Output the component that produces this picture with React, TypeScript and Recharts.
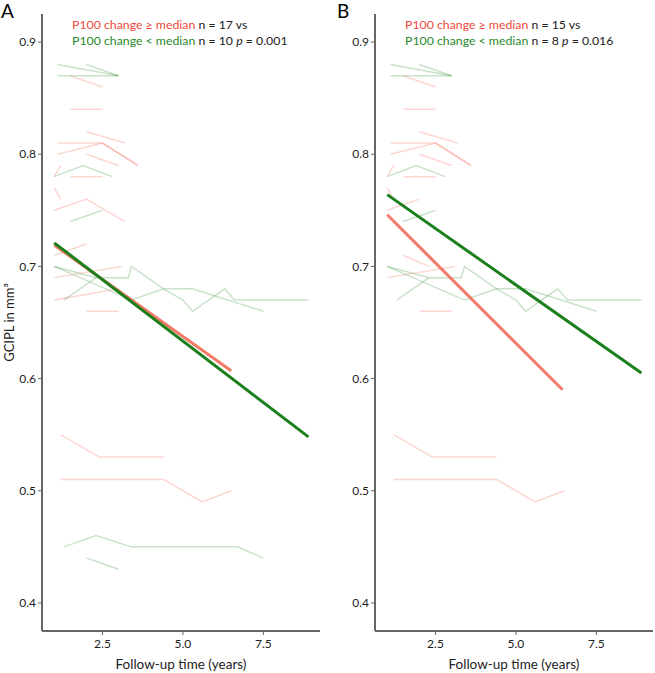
import { LineChart, Line, XAxis, YAxis } from 'recharts'

// follow-up time (years), GCIPL (mm³) per patient
const aHighLines = [
  [[1.5, 0.87], [2.5, 0.86]],
  [[1.5, 0.84], [2.5, 0.84]],
  [[2.0, 0.82], [3.2, 0.81]],
  [[1.1, 0.81], [2.5, 0.81], [3.6, 0.79]],
  [[1.1, 0.8], [2.5, 0.81], [3.6, 0.79]],
  [[2.0, 0.8], [3.0, 0.79]],
  [[1.0, 0.78], [1.2, 0.79]],
  [[1.5, 0.78], [2.5, 0.78]],
  [[1.0, 0.77], [1.2, 0.76]],
  [[1.0, 0.75], [2.0, 0.76], [3.2, 0.74]],
  [[1.0, 0.71], [2.0, 0.72]],
  [[1.0, 0.69], [3.1, 0.7]],
  [[1.0, 0.67], [3.0, 0.68]],
  [[2.0, 0.66], [3.0, 0.66]],
  [[1.2, 0.55], [2.4, 0.53], [4.4, 0.53]],
  [[1.2, 0.51], [4.4, 0.51], [5.6, 0.49], [6.5, 0.5]],
]

const aLowLines = [
  [[1.1, 0.88], [3.0, 0.87]],
  [[2.0, 0.88], [3.0, 0.87]],
  [[1.1, 0.87], [3.0, 0.87]],
  [[1.0, 0.78], [1.9, 0.79], [2.8, 0.78]],
  [[1.5, 0.74], [2.5, 0.75]],
  [[1.0, 0.7], [2.3, 0.69], [3.3, 0.69], [3.4, 0.7], [4.4, 0.68], [5.0, 0.67], [5.3, 0.66], [6.3, 0.68], [6.6, 0.67], [8.9, 0.67]],
  [[1.0, 0.7], [3.4, 0.67], [4.4, 0.68], [5.3, 0.68], [7.5, 0.66]],
  [[1.3, 0.67], [2.3, 0.69]],
  [[1.3, 0.45], [2.3, 0.46], [3.4, 0.45], [6.7, 0.45], [7.5, 0.44]],
  [[2.0, 0.44], [3.0, 0.43]],
]

const bHighLines = [
  [[1.5, 0.87], [2.5, 0.86]],
  [[1.5, 0.84], [2.5, 0.84]],
  [[2.0, 0.82], [3.2, 0.81]],
  [[1.1, 0.81], [2.5, 0.81], [3.6, 0.79]],
  [[1.1, 0.8], [2.5, 0.81], [3.6, 0.79]],
  [[2.0, 0.8], [3.0, 0.79]],
  [[1.0, 0.78], [1.2, 0.79]],
  [[1.5, 0.78], [2.5, 0.78]],
  [[1.0, 0.77], [1.2, 0.76]],
  [[1.0, 0.75], [2.0, 0.76]],
  [[1.5, 0.71], [2.3, 0.7]],
  [[1.0, 0.69], [3.1, 0.7]],
  [[2.0, 0.66], [3.0, 0.66]],
  [[1.2, 0.55], [2.4, 0.53], [4.4, 0.53]],
  [[1.2, 0.51], [4.4, 0.51], [5.6, 0.49], [6.5, 0.5]],
]

const bLowLines = aLowLines.slice(0, 8)

// fitted group trends
const aHighFit = [[1.0, 0.719], [6.5, 0.607]]
const aLowFit = [[1.0, 0.721], [8.9, 0.548]]
const bHighFit = [[1.0, 0.746], [6.45, 0.59]]
const bLowFit = [[1.0, 0.764], [8.9, 0.605]]

const xTicks = [2.5, 5.0, 7.5]
const yTicks = [0.4, 0.5, 0.6, 0.7, 0.8, 0.9]

const FONT = 'Lato, "Open Sans", sans-serif'
const RED = '#ef4a3a'
const GREEN = '#2a8a2a'

const toPts = (line: number[][]) => line.map(([x, y]) => ({ x, y }))

function Panel({ high, low, highFit, lowFit, showYLabel }: any) {
  return (
    <LineChart width={330} height={673} margin={{ top: 14, right: 10, left: 0, bottom: 0 }}>
      <XAxis
        type="number"
        dataKey="x"
        domain={[0.62, 9.26]}
        ticks={xTicks}
        tickFormatter={(v: number) => v.toFixed(1)}
        height={42}
        allowDataOverflow
        axisLine={{ stroke: '#666', strokeWidth: 2 }}
        tickLine={{ stroke: '#666' }}
        tickSize={4}
        tickMargin={4}
        tick={{ fill: '#222', fontSize: 12, fontFamily: FONT }}
        label={{ value: 'Follow-up time (years)', position: 'insideBottom', offset: 4, fontSize: 13.5, fill: '#222', fontFamily: FONT }}
      />
      <YAxis
        type="number"
        domain={[0.375, 0.925]}
        ticks={yTicks}
        tickFormatter={(v: number) => v.toFixed(1)}
        width={42}
        allowDataOverflow
        axisLine={{ stroke: '#666', strokeWidth: 2 }}
        tickLine={{ stroke: '#666' }}
        tickSize={4}
        tickMargin={2}
        tick={{ fill: '#222', fontSize: 12, fontFamily: FONT }}
        label={showYLabel ? { value: 'GCIPL in mm³', angle: -90, position: 'insideLeft', offset: 9, fontSize: 13, fill: '#222', fontFamily: FONT, style: { textAnchor: 'middle' } } : undefined}
      />
      {high.map((l: number[][], i: number) => (
        <Line key={'h' + i} data={toPts(l)} dataKey="y" stroke="rgba(244,110,95,0.28)" strokeWidth={1.5} dot={false} isAnimationActive={false} />
      ))}
      {low.map((l: number[][], i: number) => (
        <Line key={'l' + i} data={toPts(l)} dataKey="y" stroke="rgba(40,140,40,0.25)" strokeWidth={1.5} dot={false} isAnimationActive={false} />
      ))}
      <Line data={toPts(highFit)} dataKey="y" stroke="#f47a68" strokeWidth={3} dot={false} isAnimationActive={false} />
      <Line data={toPts(lowFit)} dataKey="y" stroke="#1b7f1b" strokeWidth={3} dot={false} isAnimationActive={false} />
    </LineChart>
  )
}

function Legend({ left, nHigh, nLow, p }: any) {
  return (
    <div style={{ position: 'absolute', left, top: 17, fontSize: 12.3, lineHeight: '16px', fontFamily: FONT, color: '#222' }}>
      <div><span style={{ color: RED }}>P100 change ≥ median</span> n = {nHigh} vs</div>
      <div><span style={{ color: GREEN }}>P100 change &lt; median</span> n = {nLow} <i>p</i> = {p}</div>
    </div>
  )
}

export default function App() {
  return (
    <div style={{ position: 'absolute', left: 0, top: 0, width: 655, height: 673, background: '#fff', fontFamily: FONT }}>
      <div style={{ position: 'absolute', left: 0, top: 0 }}>
        <Panel high={aHighLines} low={aLowLines} highFit={aHighFit} lowFit={aLowFit} showYLabel />
      </div>
      <div style={{ position: 'absolute', left: 333, top: 0 }}>
        <Panel high={bHighLines} low={bLowLines} highFit={bHighFit} lowFit={bLowFit} showYLabel={false} />
      </div>
      <div style={{ position: 'absolute', left: 1, top: 0, fontSize: 19, lineHeight: '22px' }}>A</div>
      <div style={{ position: 'absolute', left: 337, top: 0, fontSize: 19, lineHeight: '22px' }}>B</div>
      <Legend left={72} nHigh={17} nLow={10} p="0.001" />
      <Legend left={405} nHigh={15} nLow={8} p="0.016" />
    </div>
  )
}
